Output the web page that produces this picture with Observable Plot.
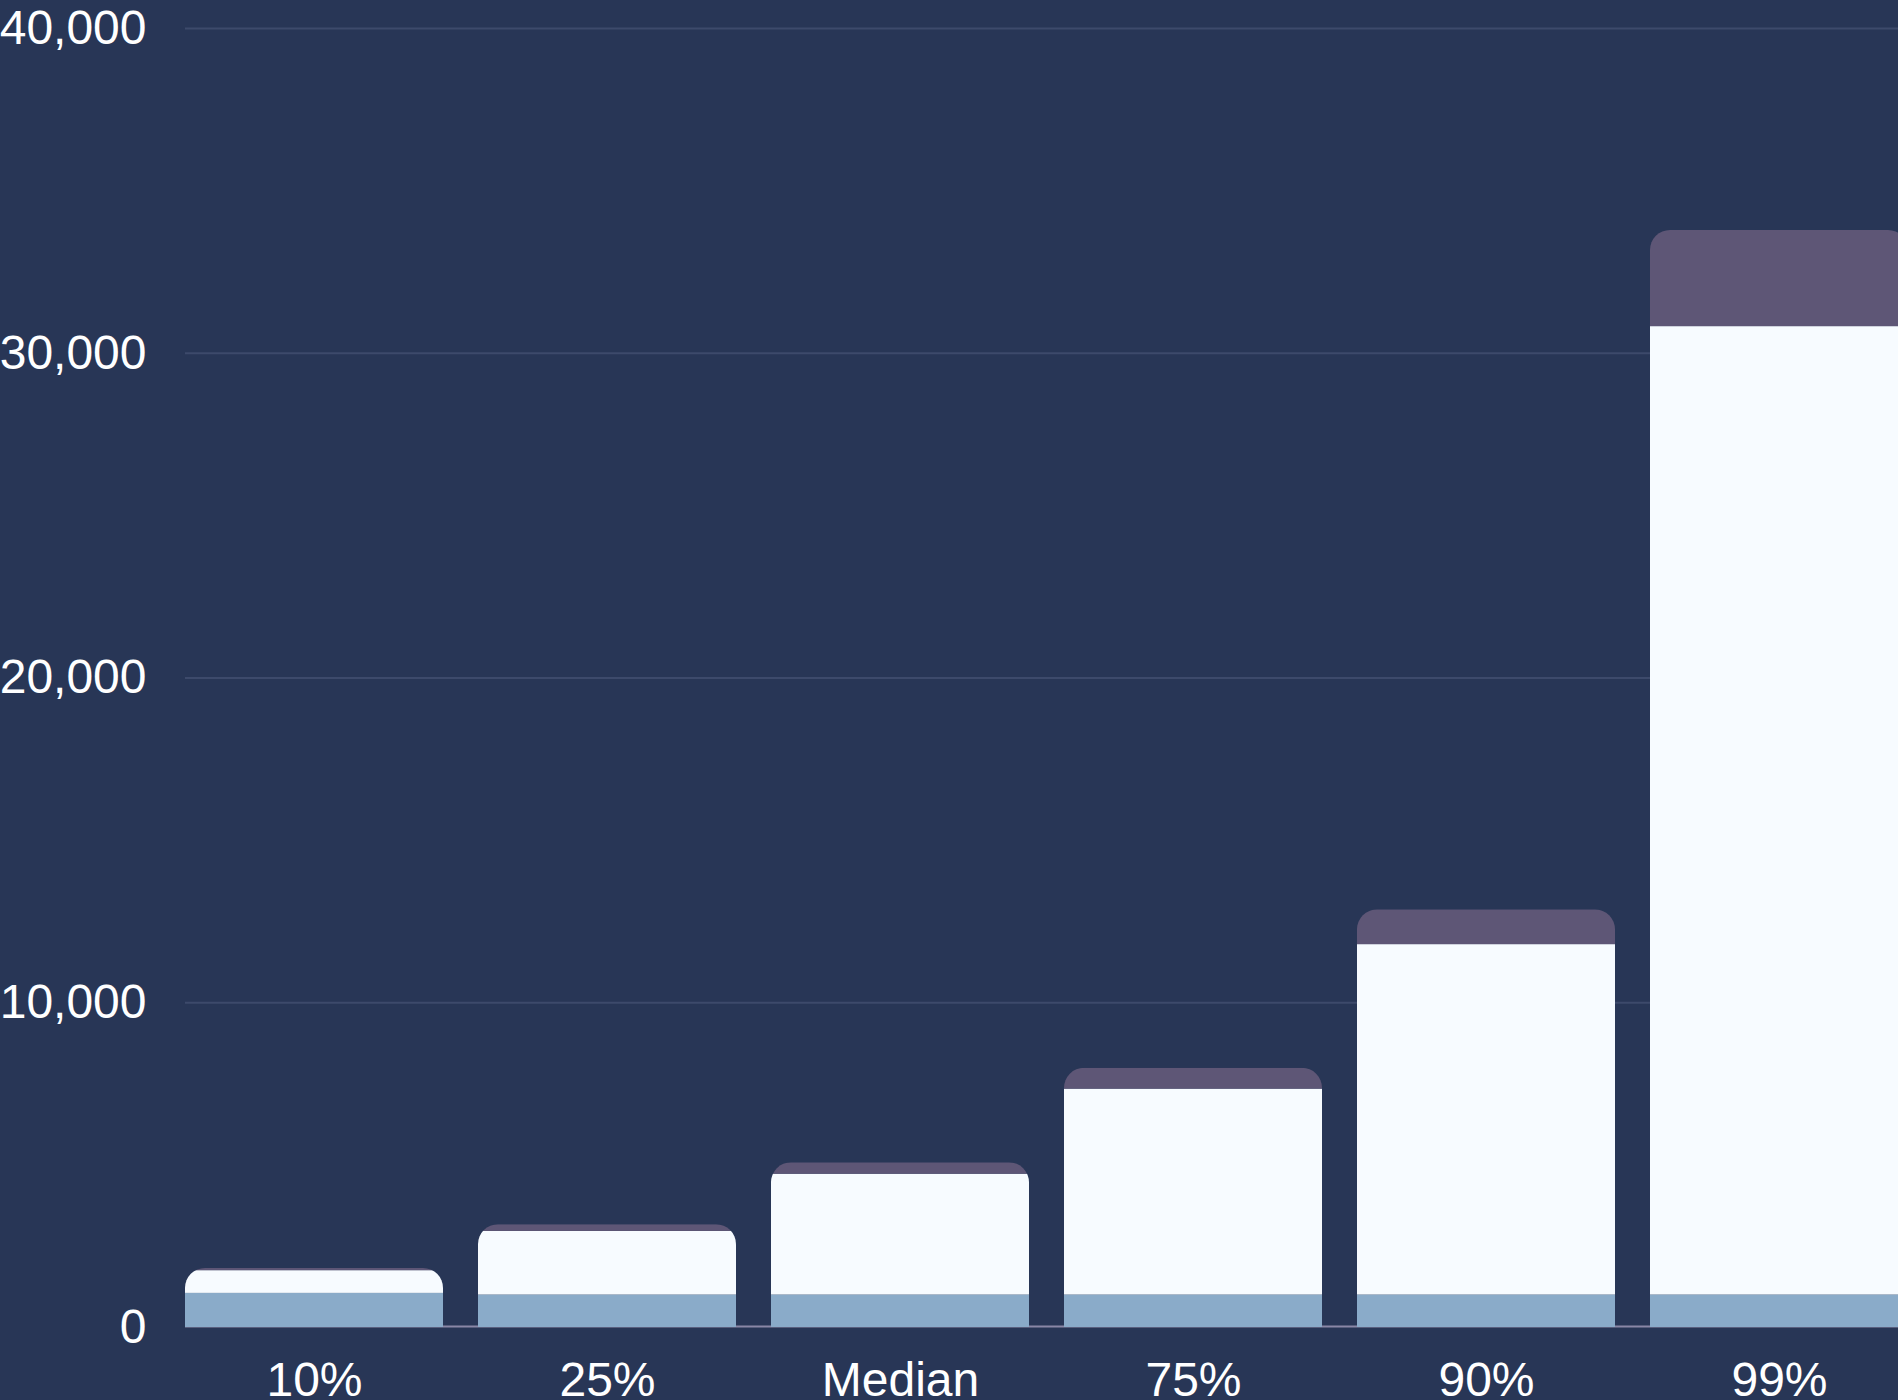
<!DOCTYPE html>
<html>
<head>
<meta charset="utf-8">
<script src="https://cdn.jsdelivr.net/npm/d3@7"></script>
<script src="https://cdn.jsdelivr.net/npm/@observablehq/plot@0.6"></script>
<style>
html, body { margin: 0; padding: 0; background: #283656; overflow: hidden; }
#chart svg { display: block; overflow: hidden; }
</style>
</head>
<body>
<div id="chart"></div>
<script>
const categories = ["10%", "25%", "Median", "75%", "90%", "99%"];
const seriesNames = ["Base", "Middle", "Top"];
const baseValues = [1050, 1000, 1000, 1000, 1000, 1000];
const middleValues = [700, 1960, 3720, 6340, 10790, 29820];
const topValues = [70, 205, 350, 640, 1070, 2960];
const yTicks = [0, 10000, 20000, 30000, 40000];

const rows = [];
categories.forEach((c, i) => {
  rows.push({category: c, series: seriesNames[0], value: baseValues[i]});
  rows.push({category: c, series: seriesNames[1], value: middleValues[i]});
  rows.push({category: c, series: seriesNames[2], value: topValues[i]});
});

const plot = Plot.plot({
  width: 1898,
  height: 1400,
  marginTop: 28,
  marginBottom: 73,
  marginLeft: 185,
  marginRight: 0,
  style: {
    background: "#283656",
    color: "#ffffff",
    fontFamily: "'Liberation Sans', Arial, sans-serif",
    fontSize: "48px",
    overflow: "hidden"
  },
  x: {domain: categories, range: [185, 1908], paddingInner: 0.12, paddingOuter: 0, label: null, tickSize: 0, tickPadding: 34},
  y: {domain: [0, 40000], ticks: yTicks, tickFormat: d3.format(","), label: null, tickSize: 0, tickPadding: 39},
  color: {domain: seriesNames, range: ["#8aabc9", "#f7fbff", "#5e5676"]},
  marks: [
    Plot.ruleY(yTicks.filter(d => d > 0), {stroke: "#3d4a6b", strokeWidth: 2}),
    Plot.ruleY([0], {stroke: "#8a87a6", strokeWidth: 2, dy: -1}),
    Plot.barY(rows, {x: "category", y: "value", fill: "series", order: seriesNames})
  ]
});

document.getElementById("chart").appendChild(plot);

// Clip each stacked bar with a rounded-top rectangle
const svg = plot.tagName.toLowerCase() === "svg" ? plot : plot.querySelector("svg");
const ns = "http://www.w3.org/2000/svg";
const rects = Array.from(svg.querySelectorAll('g[aria-label="bar"] rect'));
const byX = d3.group(rects, r => r.getAttribute("x"));
let defs = svg.querySelector("defs");
if (!defs) { defs = document.createElementNS(ns, "defs"); svg.insertBefore(defs, svg.firstChild); }
let k = 0;
for (const [x, rs] of byX) {
  const top = d3.min(rs, r => +r.getAttribute("y"));
  const bottom = d3.max(rs, r => +r.getAttribute("y") + +r.getAttribute("height"));
  const w = +rs[0].getAttribute("width");
  const id = "barclip-" + (k++);
  const cp = document.createElementNS(ns, "clipPath");
  cp.setAttribute("id", id);
  const cr = document.createElementNS(ns, "rect");
  cr.setAttribute("x", x);
  cr.setAttribute("y", top);
  cr.setAttribute("width", w);
  cr.setAttribute("height", bottom - top + 40);
  cr.setAttribute("rx", 20);
  cr.setAttribute("ry", 20);
  cp.appendChild(cr);
  defs.appendChild(cp);
  rs.forEach(r => r.setAttribute("clip-path", `url(#${id})`));
}
</script>
</body>
</html>
